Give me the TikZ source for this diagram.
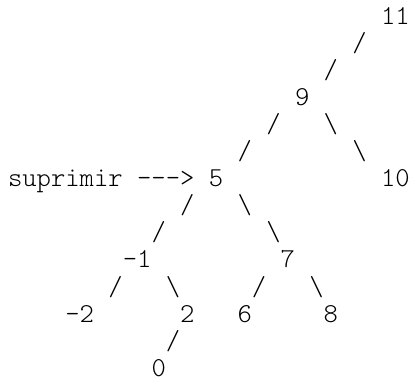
\documentclass[tikz,border=0pt]{standalone}
\usepackage{fontspec}
\newfontfamily\asciifont[Ligatures=ResetAll]{lmmonolt10-regular.otf}
\tikzset{tok/.style={anchor=base west,inner sep=0pt,outer sep=0pt,font=\asciifont\fontsize{27.43pt}{30pt}\selectfont,text=black}}
\newcommand{\tokat}[4]{\node[tok] (#1) at ({8+#2*14.35},{-(24+#3*27.1)}) {#4};}
\begin{document}
\begin{tikzpicture}[x=1bp,y=1bp]
\useasboundingbox (0,0) rectangle (414,-381);
\tokat{n11}{26}{0}{11}
\tokat{a1}{24}{1}{/}
\tokat{a2}{22}{2}{/}
\tokat{n9}{20}{3}{9}
\tokat{a3}{18}{4}{/}
\tokat{b3}{22}{4}{\textbackslash}
\tokat{a4}{16}{5}{/}
\tokat{b4}{24}{5}{\textbackslash}
\tokat{lbl}{0}{6}{suprimir -\kern0pt-\kern0pt->}
\tokat{n5}{14}{6}{5}
\tokat{n10}{26}{6}{10}
\tokat{a5}{12}{7}{/}
\tokat{b5}{16}{7}{\textbackslash}
\tokat{a6}{10}{8}{/}
\tokat{b6}{18}{8}{\textbackslash}
\tokat{nm1}{8}{9}{-1}
\tokat{n7}{19}{9}{7}
\tokat{a7}{7}{10}{/}
\tokat{b7}{11}{10}{\textbackslash}
\tokat{a8}{17}{10}{/}
\tokat{b8}{21}{10}{\textbackslash}
\tokat{nm2}{4}{11}{-2}
\tokat{n2}{12}{11}{2}
\tokat{n6}{16}{11}{6}
\tokat{n8}{22}{11}{8}
\tokat{a9}{11}{12}{/}
\tokat{n0}{10}{13}{0}
\end{tikzpicture}
\end{document}
